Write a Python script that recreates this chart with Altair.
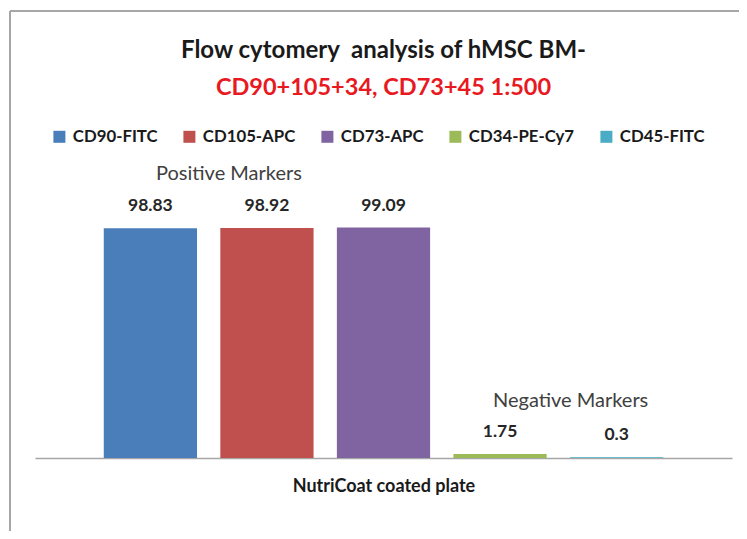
import altair as alt
import pandas as pd

markers = ["CD90-FITC", "CD105-APC", "CD73-APC", "CD34-PE-Cy7", "CD45-FITC"]
values = [98.83, 98.92, 99.09, 1.75, 0.3]
groups = ["Positive", "Positive", "Positive", "Negative", "Negative"]
colors = ["#4A7EBB", "#C0504D", "#8064A2", "#9BBB59", "#4BACC6"]
category_title = "NutriCoat coated plate"

annot_text = ["Positive Markers", "Negative Markers"]
annot_marker = ["CD105-APC", "CD45-FITC"]
annot_value = [122.0, 24.5]

df = pd.DataFrame({
    "marker": markers,
    "value": values,
    "group": groups,
    "label": [f"{v:g}" for v in values],
})
adf = pd.DataFrame({"text": annot_text, "marker": annot_marker, "value": annot_value})

FONT = "Lato"

x_enc = alt.X(
    "marker:N", sort=markers,
    scale=alt.Scale(domain=markers, paddingInner=0.2, paddingOuter=0.59),
    axis=alt.Axis(
        title=category_title, labels=False, ticks=False, grid=False,
        domainColor="#A6A6A6", domainWidth=1.5,
        titleFont=FONT, titleFontSize=18, titleFontWeight="bold",
        titleColor="#1a1a1a", titlePadding=19,
    ),
)
y_enc = alt.Y("value:Q", scale=alt.Scale(domain=[0, 120]), axis=None)

base = alt.Chart(df)

bars = base.mark_bar().encode(
    x=x_enc,
    y=y_enc,
    color=alt.Color(
        "marker:N", sort=markers,
        scale=alt.Scale(domain=markers, range=colors),
        legend=alt.Legend(
            title=None, orient="none", direction="horizontal",
            legendX=16, legendY=-51,
            symbolType="square", symbolSize=144, symbolStrokeWidth=0,
            labelFont=FONT, labelFontSize=16.8, labelFontWeight="bold",
            labelColor="#1a1a1a", labelOffset=5, columnPadding=23, padding=0,
        ),
    ),
)

labels = base.mark_text(
    font=FONT, fontSize=17.5, fontWeight="bold", color="#262626",
    baseline="middle", dy=-22,
).encode(x=alt.X("marker:N", sort=markers), y="value:Q", text="label:N")

abase = alt.Chart(adf)
ann_pos = abase.transform_filter(alt.datum.text == "Positive Markers").mark_text(
    font=FONT, fontSize=20, color="#404040", baseline="middle", dx=-38,
).encode(x=alt.X("marker:N", sort=markers), y="value:Q", text="text:N")
ann_neg = abase.transform_filter(alt.datum.text == "Negative Markers").mark_text(
    font=FONT, fontSize=20, color="#404040", baseline="middle", dx=-46,
).encode(x=alt.X("marker:N", sort=markers), y="value:Q", text="text:N")

one = alt.Chart(pd.DataFrame({"k": [0]}))
border_top = one.mark_rule(color="#A6A6A6", strokeWidth=2).encode(
    x=alt.value(-25), x2=alt.value(712), y=alt.value(-168))
border_left = one.mark_rule(color="#A6A6A6", strokeWidth=2).encode(
    x=alt.value(-25), y=alt.value(-168), y2=alt.value(360))

chart = alt.layer(
    border_top, border_left, bars, labels, ann_pos, ann_neg
).properties(
    width=697, height=279,
    background="white",
    title=alt.TitleParams(
        text="Flow cytomery\u00a0 analysis of hMSC BM-",
        subtitle="CD90+105+34, CD73+45 1:500",
        font=FONT, fontSize=24, fontWeight="bold", color="#1a1a1a",
        subtitleFont=FONT, subtitleFontSize=23.5, subtitleFontWeight="bold",
        subtitleColor="#E8191F", subtitlePadding=13,
        anchor="middle", frame="group", offset=-89,
    ),
    autosize=alt.AutoSizeParams(type="none"),
    padding={"left": 27, "top": 171, "right": 7, "bottom": 73},
).configure_view(stroke=None)

chart.save("out.html", embed_options={"renderer": "svg", "actions": False})
